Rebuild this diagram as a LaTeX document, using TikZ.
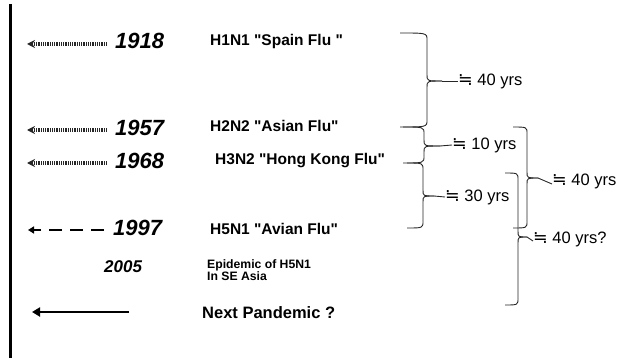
\documentclass[tikz,border=0pt]{standalone}
\usepackage{fontspec}
\setmainfont{Liberation Sans}
\newfontfamily\symfnt{DejaVu Sans}
\usetikzlibrary{arrows.meta}
\tikzset{
  yearlbl/.style={anchor=west,inner sep=0pt,font=\fontsize{22}{22}\selectfont\bfseries\itshape},
  flulbl/.style={anchor=west,inner sep=0pt,font=\fontsize{15.5}{16}\selectfont\bfseries},
  yrslbl/.style={anchor=west,inner sep=0pt,font=\fontsize{16.5}{17}\selectfont},
  dotarr/.style={line width=3.2pt,black!85,dash pattern=on 1.1pt off 0.7pt,-{Stealth[length=8pt,width=8pt]}},
  dasharr/.style={line width=2.2pt,dash pattern=on 13pt off 8pt,-{Triangle[length=6pt,width=7pt]}},
  solidarr/.style={line width=2.5pt,-{Triangle[length=8pt,width=9pt]}},
  brc/.style={line width=0.9pt,black!85},
}
\newcommand\apx{{\symfnt\fontsize{17.5}{17}\selectfont ≒}}
\newcommand\qq{\textquotedbl}
% #1 end x, #2 vertical x, #3 tip x, #4 top y, #5 mid y, #6 bottom y, #7 name of tip coordinate
\newcommand\mybrace[7]{%
  \draw[brc] (#1,#4) .. controls (#2,#4) .. (#2,#4+7) -- (#2,#5-6) .. controls (#2,#5) .. (#3,#5);
  \draw[brc] (#3,#5) .. controls (#2,#5) .. (#2,#5+6) -- (#2,#6-7) .. controls (#2,#6) .. (#1,#6);
  \coordinate (#7) at (#3,#5);
}
\begin{document}
\begin{tikzpicture}[x=1pt,y=-1pt]
\useasboundingbox (0,0) rectangle (617,358);
\clip (0,0) rectangle (617,358);
% timeline axis
\draw[line width=3pt] (10,4) -- (10,358);
% years
\node[yearlbl] (y1918) at (115,41) {1918};
\node[yearlbl] (y1957) at (115,128) {1957};
\node[yearlbl] (y1968) at (115,161) {1968};
\node[yearlbl] (y1997) at (113,228) {1997};
\node[anchor=west,inner sep=0pt,font=\fontsize{17}{17}\selectfont\bfseries\itshape] (y2005) at (104,267) {2005};
% arrow targets
\coordinate (t1918) at (27,44);
\coordinate (t1957) at (27,130);
\coordinate (t1968) at (27,163);
\coordinate (t1997) at (28,230);
\coordinate (tnext) at (32,312);
\coordinate (snext) at (129,312);
\draw[dotarr] ([xshift=-8pt,yshift=-3pt]y1918.west) -- (t1918);
\draw[dotarr] ([xshift=-8pt,yshift=-2pt]y1957.west) -- (t1957);
\draw[dotarr] ([xshift=-8pt,yshift=-2pt]y1968.west) -- (t1968);
\draw[dasharr] ([xshift=-9pt,yshift=-2pt]y1997.west) -- (t1997);
\draw[solidarr] (snext) -- (tnext);
% flu labels
\node[flulbl] (h1) at (210,41) {H1N1 \qq Spain Flu \qq};
\node[flulbl] (h2) at (210,126) {H2N2 \qq Asian Flu\qq};
\node[flulbl] (h3) at (215,161) {H3N2 \qq Hong Kong Flu\qq};
\node[flulbl] (h5) at (210,229) {H5N1 \qq Avian Flu\qq};
\node[anchor=north west,inner sep=0pt,align=left,font=\fontsize{12.2}{12}\selectfont\bfseries] (epi) at (207,259) {Epidemic of H5N1\\In SE Asia};
\node[anchor=west,inner sep=0pt,font=\fontsize{16.5}{17}\selectfont\bfseries] (next) at (202,313) {Next Pandemic ?};
% braces
\mybrace{400}{427}{442}{33}{81}{127}{b1}
\mybrace{403}{424}{440}{127}{146}{163}{b2}
\mybrace{407}{423}{434}{163}{196}{228}{b3}
\mybrace{513}{527}{538}{127}{178}{228}{b4}
\mybrace{505}{518}{527}{173}{237}{305}{b5}
% brace labels
\node[yrslbl] (l1) at (458,81) {\apx\ 40 yrs};
\node[yrslbl] (l2) at (452,145) {\apx\ 10 yrs};
\node[yrslbl] (l3) at (445,197) {\apx\ 30 yrs};
\node[yrslbl] (l4) at (552,181) {\apx\ 40 yrs};
\node[yrslbl] (l5) at (533,239) {\apx\ 40 yrs?};
\draw[brc] (b1) -- (l1.west);
\draw[brc] (b2) -- (l2.west);
\draw[brc] (b3) -- (l3.west);
\draw[brc] (b4) -- ([yshift=-3pt]l4.west);
\draw[brc] (b5) -- ([yshift=-2pt]l5.west);
\end{tikzpicture}
\end{document}
